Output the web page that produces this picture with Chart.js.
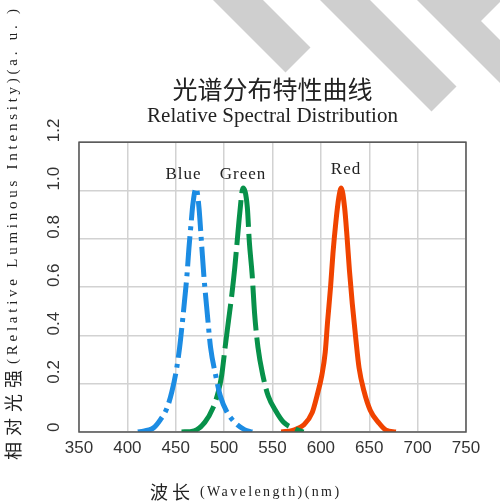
<!DOCTYPE html>
<html lang="zh">

<head>
    <meta charset="UTF-8">
    <title>光谱分布特性曲线</title>
    <script src="https://cdn.jsdelivr.net/npm/chart.js@4.4.0/dist/chart.umd.min.js"></script>
    <style>
        html, body { margin: 0; padding: 0; background: #fff; }
    </style>
</head>

<body>
    <canvas id="spectrum" width="500" height="504"></canvas>

    <script>
        // wavelength (nm) / relative intensity
        var blueNm = [411, 427, 434, 441, 446, 451, 454, 457, 459, 461.6, 463.6, 466, 467.6, 471, 474, 476, 479, 482.6, 486, 491, 496, 502.6, 511, 521, 529];
        var blueVal = [0, 0.017, 0.05, 0.1, 0.167, 0.265, 0.35, 0.46, 0.54, 0.65, 0.76, 0.87, 0.94, 1.01, 0.93, 0.82, 0.65, 0.49, 0.35, 0.24, 0.15, 0.085, 0.04, 0.01, 0];

        var greenNm = [456, 469, 480, 488.5, 494, 497.5, 501, 504.5, 508, 511, 513.5, 516, 519.5, 524, 526, 529, 531.5, 535, 540, 545.5, 553, 561.5, 572, 582];
        var greenVal = [0, 0.005, 0.04, 0.1, 0.167, 0.235, 0.35, 0.46, 0.57, 0.68, 0.79, 0.9, 1.01, 0.93, 0.79, 0.65, 0.49, 0.35, 0.235, 0.15, 0.09, 0.04, 0.015, 0];

        var redNm = [559, 571, 582.5, 591, 596, 601, 604.5, 607, 610, 612.5, 615.5, 618.5, 621, 624.5, 627, 629.5, 632.5, 636, 639.5, 644.5, 651, 659.5, 667.5, 677.5];
        var redVal = [0, 0.007, 0.03, 0.08, 0.15, 0.235, 0.33, 0.46, 0.6, 0.74, 0.87, 0.97, 1.01, 0.93, 0.81, 0.67, 0.53, 0.39, 0.265, 0.17, 0.09, 0.04, 0.007, 0];

        var xTicks = [350, 400, 450, 500, 550, 600, 650, 700, 750];
        var yTicks = [0, 0.2, 0.4, 0.6, 0.8, 1.0, 1.2];

        // curve names written above the peaks (wavelength, intensity)
        var peakNames = ["Blue", "Green", "Red"];
        var peakNameNm = [458, 519.5, 626];
        var peakNameVal = [1.066, 1.066, 1.087];

        var serif = "'Liberation Serif', 'Noto Sans CJK SC', serif";
        var sans = "'Liberation Sans', 'DejaVu Sans', sans-serif";
        var cjk = "'Noto Sans CJK SC', sans-serif";

        function toPoints(xs, ys) {
            return xs.map(function (x, i) { return { x: x, y: ys[i] }; });
        }

        // draws a chinese head followed by a latin tail, left to right from (0,0)
        function mixedText(ctx, head, tail) {
            ctx.textAlign = "left";
            ctx.font = "18px " + cjk;
            ctx.letterSpacing = "6px";
            ctx.fillText(head, 0, 0);
            var w = ctx.measureText(head).width;
            ctx.font = "15px " + serif;
            ctx.letterSpacing = "3.75px";
            ctx.fillText(tail, w, 0);
        }

        // grey diagonal stripes behind the title, plot frame, axis titles, peak names
        var decor = {
            id: "decor",
            beforeDraw: function (chart) {
                var ctx = chart.ctx;
                var stripes = [
                    [[213, 0], [263, 0], [310.5, 47.5], [285.5, 72.5]],
                    [[320, 0], [370, 0], [456.5, 86.5], [431.5, 111.5]],
                    [[417, 0], [502, 0], [481, 21], [500, 40], [500, 83]]
                ];
                ctx.save();
                ctx.fillStyle = "#cfcfcf";
                stripes.forEach(function (s) {
                    ctx.beginPath();
                    ctx.moveTo(s[0][0], s[0][1]);
                    for (var i = 1; i < s.length; i++) ctx.lineTo(s[i][0], s[i][1]);
                    ctx.closePath();
                    ctx.fill();
                });
                ctx.restore();
            },
            afterDraw: function (chart) {
                var ctx = chart.ctx;
                var a = chart.chartArea;
                var xs = chart.scales.x, ys = chart.scales.y;
                ctx.save();
                ctx.strokeStyle = "#555";
                ctx.lineWidth = 1.5;
                ctx.strokeRect(a.left, a.top, a.right - a.left, a.bottom - a.top);

                ctx.fillStyle = "#222";
                ctx.textAlign = "center";
                ctx.textBaseline = "middle";
                ctx.font = "17px " + serif;
                ctx.letterSpacing = "1px";
                for (var i = 0; i < peakNames.length; i++) {
                    ctx.fillText(peakNames[i], xs.getPixelForValue(peakNameNm[i]), ys.getPixelForValue(peakNameVal[i]));
                }

                // x axis title
                ctx.save();
                ctx.translate(150, 492);
                ctx.font = "18px " + cjk;
                ctx.textAlign = "left";
                ctx.letterSpacing = "4px";
                ctx.fillText("波长", 0, 0);
                ctx.font = "14px " + serif;
                ctx.letterSpacing = "2.4px";
                ctx.fillText("(Wavelength)(nm)", 50, 0);
                ctx.restore();

                // y axis title, reads bottom to top
                ctx.translate(13, 460);
                ctx.rotate(-Math.PI / 2);
                mixedText(ctx, "相对光强", "(Relative Luminous Intensity)(a. u. )");
                ctx.restore();
            }
        };

        new Chart("spectrum", {
            type: "line",
            data: {
                datasets: [{
                    label: "Blue",
                    data: toPoints(blueNm, blueVal),
                    borderColor: "#1c8ce3",
                    borderWidth: 5,
                    borderDash: [30, 6, 4, 6],
                    pointRadius: 0,
                    cubicInterpolationMode: "monotone"
                }, {
                    label: "Green",
                    data: toPoints(greenNm, greenVal),
                    borderColor: "#07914a",
                    borderWidth: 5,
                    borderDash: [45, 7],
                    pointRadius: 0,
                    cubicInterpolationMode: "monotone"
                }, {
                    label: "Red",
                    data: toPoints(redNm, redVal),
                    borderColor: "#f04300",
                    borderWidth: 5,
                    pointRadius: 0,
                    cubicInterpolationMode: "monotone"
                }]
            },
            options: {
                responsive: false,
                animation: false,
                layout: {
                    padding: { top: 74, left: 46, right: 34, bottom: 42 }
                },
                plugins: {
                    legend: { display: false },
                    tooltip: { enabled: false },
                    title: {
                        display: true,
                        fullSize: false,
                        text: "光谱分布特性曲线",
                        color: "#222",
                        font: { family: cjk, size: 25, weight: "normal", lineHeight: 1.2 },
                        padding: { top: 0, bottom: 0 }
                    },
                    subtitle: {
                        display: true,
                        fullSize: false,
                        text: "Relative Spectral Distribution",
                        color: "#222",
                        font: { family: serif, size: 21, lineHeight: 1.2 },
                        padding: { top: 0, bottom: 13 }
                    }
                },
                scales: {
                    x: {
                        type: "linear",
                        min: 350,
                        max: 750,
                        afterFit: function (scale) { scale.height = 30; },
                        afterBuildTicks: function (scale) {
                            scale.ticks = xTicks.map(function (v) { return { value: v }; });
                        },
                        ticks: {
                            color: "#333",
                            padding: 6,
                            font: { family: sans, size: 17 }
                        },
                        grid: { color: "#d2d2d2", lineWidth: 1.5, drawTicks: false },
                        border: { display: false }
                    },
                    y: {
                        min: 0,
                        max: 1.2,
                        afterFit: function (scale) { scale.width = 33; },
                        afterBuildTicks: function (scale) {
                            scale.ticks = yTicks.map(function (v) { return { value: v }; });
                        },
                        ticks: {
                            color: "#333",
                            minRotation: 90,
                            maxRotation: 90,
                            crossAlign: "far",
                            align: "start",
                            font: { family: sans, size: 17 },
                            callback: function (v) { return v === 0 ? "0" : v.toFixed(1); }
                        },
                        grid: { color: "#d2d2d2", lineWidth: 1.5, drawTicks: false },
                        border: { display: false }
                    }
                }
            },
            plugins: [decor]
        });
    </script>
</body>

</html>
